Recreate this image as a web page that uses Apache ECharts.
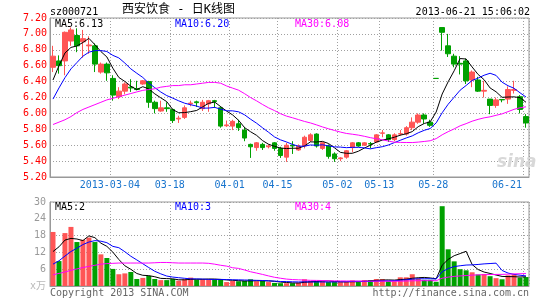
<!DOCTYPE html>
<html><head><meta charset="utf-8">
<script src="https://cdn.jsdelivr.net/npm/echarts@6/dist/echarts.min.js"></script>
<style>html,body{margin:0;padding:0;background:#fff}#c{width:545px;height:300px}</style>
</head><body><div id="c"></div>
<script>
// ---- data ----
const dates = ['2013-02-18','2013-02-19','2013-02-20','2013-02-21','2013-02-22','2013-02-25','2013-02-26','2013-02-27','2013-02-28','2013-03-01',
'2013-03-04','2013-03-05','2013-03-06','2013-03-07','2013-03-08','2013-03-11','2013-03-12','2013-03-13','2013-03-14','2013-03-15',
'2013-03-18','2013-03-19','2013-03-20','2013-03-21','2013-03-22','2013-03-25','2013-03-26','2013-03-27','2013-03-28','2013-03-29',
'2013-04-01','2013-04-02','2013-04-03','2013-04-08','2013-04-09','2013-04-10','2013-04-11','2013-04-12',
'2013-04-15','2013-04-16','2013-04-17','2013-04-18','2013-04-19','2013-04-22','2013-04-23','2013-04-24','2013-04-25','2013-04-26',
'2013-05-02','2013-05-03','2013-05-06','2013-05-07','2013-05-08','2013-05-09','2013-05-10',
'2013-05-13','2013-05-14','2013-05-15','2013-05-16','2013-05-17','2013-05-20','2013-05-21','2013-05-22','2013-05-23',
'2013-05-28','2013-05-29','2013-05-30','2013-05-31','2013-06-03','2013-06-04','2013-06-05','2013-06-06','2013-06-07',
'2013-06-13','2013-06-14','2013-06-17','2013-06-18','2013-06-19','2013-06-20','2013-06-21'];

const tickDates  = ['2013-03-04','2013-03-18','2013-04-01','2013-04-15','2013-05-02','2013-05-13','2013-05-28','2013-06-21'];
const tickLabels = ['2013-03-04','03-18','04-01','04-15','05-02','05-13','05-28','06-21'];

const opens = [6.58,6.66,6.66,6.91,6.98,6.90,6.85,6.85,6.52,6.62, 6.44,6.21,6.28,6.33,6.31,6.37,6.40,6.14,6.03,6.07,
 6.05,5.93,5.95,6.12,6.145,6.06,6.12,6.16,6.07,5.845, 5.84,5.87,5.79,5.61,5.57,5.61,5.58,5.63,5.56,5.45,
 5.60,5.54,5.59,5.66,5.74,5.56,5.59,5.49,5.43,5.45, 5.57,5.63,5.60,5.62,5.64,5.75,5.73,5.67,5.74,5.74,
 5.82,5.89,5.98,5.89,6.44,7.08,6.85,6.72,6.63,6.66, 6.42,6.42,6.28,6.18,6.10,6.175,6.18,6.29,6.21,5.96];
const closes = [6.72,6.60,7.02,7.05,6.85,6.94,6.86,6.62,6.62,6.51, 6.23,6.28,6.37,6.32,6.30,6.41,6.14,6.06,6.07,6.06,
 5.91,5.94,6.07,6.13,6.135,6.14,6.16,6.15,5.84,5.855, 5.90,5.82,5.69,5.58,5.63,5.57,5.59,5.56,5.47,5.60,
 5.59,5.59,5.70,5.73,5.59,5.63,5.46,5.43,5.44,5.53, 5.63,5.59,5.63,5.615,5.73,5.755,5.67,5.73,5.745,5.82,
 5.89,5.98,5.93,5.85,6.44,7.02,6.75,6.62,6.62,6.41, 6.52,6.28,6.29,6.10,6.17,6.17,6.30,6.30,6.05,5.88];
const lows = [6.52,6.50,6.48,6.85,6.77,6.70,6.75,6.52,6.50,6.41, 6.16,6.18,6.24,6.27,6.29,6.36,6.07,6.00,6.02,6.02,
 5.88,5.88,5.93,6.09,6.08,6.03,6.02,6.07,5.82,5.83, 5.79,5.78,5.65,5.44,5.53,5.54,5.56,5.53,5.44,5.39,
 5.49,5.53,5.56,5.64,5.57,5.54,5.43,5.39,5.40,5.43, 5.51,5.58,5.59,5.56,5.63,5.70,5.64,5.65,5.72,5.72,
 5.79,5.87,5.87,5.83,6.44,6.79,6.71,6.58,6.49,6.37, 6.33,6.27,6.20,5.99,6.07,6.14,6.12,6.25,6.00,5.82];
const highs = [6.85,6.73,7.03,7.08,7.07,7.05,6.97,6.88,6.64,6.64, 6.48,6.33,6.39,6.43,6.41,6.42,6.41,6.16,6.16,6.14,
 6.06,5.97,6.10,6.16,6.16,6.17,6.17,6.17,6.09,5.91, 5.92,5.92,5.83,5.62,5.64,5.63,5.61,5.64,5.58,5.63,
 5.65,5.61,5.72,5.75,5.75,5.64,5.61,5.51,5.45,5.54, 5.64,5.64,5.64,5.64,5.74,5.79,5.74,5.75,5.79,5.84,
 5.95,6.00,6.00,5.92,6.44,7.08,7.00,6.75,6.72,6.69, 6.54,6.46,6.41,6.18,6.20,6.18,6.34,6.41,6.23,5.99];
const volumes = [19.3,8.9,18.9,21.1,15.7,16.5,17.3,15.7,11.3,10.0, 6.1,4.2,4.5,5.0,2.5,2.9,3.6,2.5,2.1,2.1,
 2.5,1.9,2.4,3.0,2.3,2.4,2.4,2.3,2.3,1.4, 1.8,1.7,1.8,2.4,1.7,1.8,1.4,1.1,1.0,1.0,
 1.0,1.2,2.4,1.8,1.7,1.7,1.4,1.4,1.4,1.4, 2.0,1.4,2.1,2.1,2.5,2.5,1.7,1.7,3.1,3.1,
 4.2,2.7,2.2,2.2,1.5,28.5,13.1,8.8,6.0,5.6, 4.9,4.1,4.3,3.5,2.8,2.4,3.8,4.1,3.0,3.2];

// moving-average values before enough history exists
const ma5Head  = [6.42,6.60,6.76,6.83];
const ma10Head = [6.18,6.32,6.45,6.56,6.64,6.72,6.77,6.79,6.79];
const ma30Head = [5.86,5.89,5.92,5.96,6.01,6.05,6.08,6.11,6.14,6.17,6.19,6.21,6.23,6.25,6.27,6.29,6.30,6.31,6.33,6.34,6.35,6.35,6.36,6.36,6.37,6.38,6.39,6.39,6.38];
const vma5Head  = [12.3,14.0,16.4,17.0];
const vma10Head = [7.8,9.0,10.7,12.3,13.5,14.8,15.7,16.2,16.0];
const vma30Head = [4.0,4.5,5.0,5.6,6.1,6.6,7.0,7.4,7.8,8.0,8.1,8.2,8.2,8.2,8.2,8.2,8.2,8.3,8.4,8.4,8.3,8.2,8.2,8.2,8.2,8.2,8.1,7.8,7.4];

const priceLegend = ['MA5:6.13','MA10:6.20','MA30:6.08'];
const volLegend   = ['MA5:2','MA10:3','MA30:4'];

// ---- build ----
function ma(arr, n, head){
  return arr.map((v,i)=>{
    if(i < n-1) return head[i];
    let s=0; for(let k=i-n+1;k<=i;k++) s+=arr[k];
    return +(s/n).toFixed(3);
  });
}
const UP='#ff5555', DOWN='#00a000';
const FONT='"DejaVu Sans Mono", "Noto Sans CJK SC", monospace';
const tickIdx = tickDates.map(d=>dates.indexOf(d));
const isTick = i => tickIdx.indexOf(i) >= 0;
const lastTick = tickIdx[tickIdx.length-1];

const candleData = dates.map((d,i)=>{
  const v=[opens[i],closes[i],lows[i],highs[i]];
  if(opens[i]===closes[i]) return {value:v,itemStyle:{color:DOWN,color0:DOWN,borderColor:DOWN,borderColor0:DOWN}};
  return v;
});
const volData = volumes.map((v,i)=>({value:v,itemStyle:{color: closes[i]>opens[i]?UP:DOWN}}));

const dotted = {color:'#a0a0a0', type:[1,2], width:1};
function xAx(gi, labels){
  return {
    type:'category', gridIndex:gi, data:dates, boundaryGap:true,
    axisLine:{show:true, lineStyle:{color:'#999'}}, axisTick:{show:false},
    axisLabel:{show:labels, interval:(i)=>isTick(i), margin:3,
      formatter:(v,i)=>{ const t=tickLabels[tickIdx.indexOf(i)]; return (i===lastTick?'{e|':'{n|')+t+'}'; },
      rich:{n:{fontFamily:FONT,fontSize:10,color:'#1874cd',padding:[0,6,0,0]},
            e:{fontFamily:FONT,fontSize:10,color:'#1874cd',padding:[0,38,0,0]}}},
    splitLine:{show:true, interval:(i)=>isTick(i), lineStyle:dotted}
  };
}
function txt(x,y,t,color,align,size){
  return {type:'text', z:10, style:{x:x,y:y,text:t,fill:color,font:(size||10)+'px '+FONT,
    textAlign:align||'left',align:align||'left',textVerticalAlign:'middle',verticalAlign:'middle'}};
}

const option = {
  animation:false, backgroundColor:'#fff',
  grid:[
    {left:50, top:18, width:479, height:159, show:true, borderColor:'#999', borderWidth:1, backgroundColor:'transparent'},
    {left:50, top:202, width:479, height:84, show:true, borderColor:'#999', borderWidth:1, backgroundColor:'transparent'}
  ],
  xAxis:[xAx(0,true), xAx(1,false)],
  yAxis:[
    {type:'value', gridIndex:0, min:5.2, max:7.2, interval:0.2,
     axisLine:{show:true,lineStyle:{color:'#999'}}, axisTick:{show:false},
     axisLabel:{margin:3, fontFamily:FONT, fontSize:10, color:'#ff0000', formatter:v=>v.toFixed(2)},
     splitLine:{show:true, lineStyle:dotted}},
    {type:'value', gridIndex:1, min:0, max:30, interval:6,
     axisLine:{show:true,lineStyle:{color:'#999'}}, axisTick:{show:false},
     axisLabel:{margin:4, fontFamily:FONT, fontSize:10,
       color:(v)=> (+v===0 ? '#b8b8b8' : '#999'),
       formatter:v=> v===0 ? 'x万' : String(v)},
     splitLine:{show:true, lineStyle:dotted}}
  ],
  series:[
    {type:'candlestick', xAxisIndex:0, yAxisIndex:0, data:candleData, barWidth:5,
     itemStyle:{color:UP,color0:DOWN,borderColor:UP,borderColor0:DOWN,borderWidth:1}},
    {type:'line', xAxisIndex:0, yAxisIndex:0, data:ma(closes,5,ma5Head), symbol:'none', lineStyle:{color:'#000',width:1}},
    {type:'line', xAxisIndex:0, yAxisIndex:0, data:ma(closes,10,ma10Head), symbol:'none', lineStyle:{color:'#0000ff',width:1}},
    {type:'line', xAxisIndex:0, yAxisIndex:0, data:ma(closes,30,ma30Head), symbol:'none', lineStyle:{color:'#ff00ff',width:1}},
    {type:'bar', xAxisIndex:1, yAxisIndex:1, data:volData, barWidth:5},
    {type:'line', xAxisIndex:1, yAxisIndex:1, data:ma(volumes,5,vma5Head), symbol:'none', lineStyle:{color:'#000',width:1}},
    {type:'line', xAxisIndex:1, yAxisIndex:1, data:ma(volumes,10,vma10Head), symbol:'none', lineStyle:{color:'#0000ff',width:1}},
    {type:'line', xAxisIndex:1, yAxisIndex:1, data:ma(volumes,30,vma30Head), symbol:'none', lineStyle:{color:'#ff00ff',width:1}}
  ],
  graphic:[
    txt(50,12,'sz000721','#000'),
    txt(122,10,'西安饮食 - 日K线图','#000','left',12),
    txt(530,12,'2013-06-21 15:06:02','#000','right'),
    txt(55,24,priceLegend[0],'#000'),
    txt(175,24,priceLegend[1],'#0000ff'),
    txt(295,24,priceLegend[2],'#ff00ff'),
    txt(55,207,volLegend[0],'#000'),
    txt(175,207,volLegend[1],'#0000ff'),
    txt(295,207,volLegend[2],'#ff00ff'),
    txt(50,293,'Copyright 2013 SINA.COM','#666'),
    txt(529,293,'http://finance.sina.com.cn','#666','right'),
    {type:'text', z:1, style:{x:497,y:163,text:'sina',fill:'#d8d8d8',font:'italic bold 17px "DejaVu Sans", sans-serif',textVerticalAlign:'middle',verticalAlign:'middle'}}
  ]
};
const chart = echarts.init(document.getElementById('c'), null, {renderer:'canvas'});
chart.setOption(option);
</script></body></html>
